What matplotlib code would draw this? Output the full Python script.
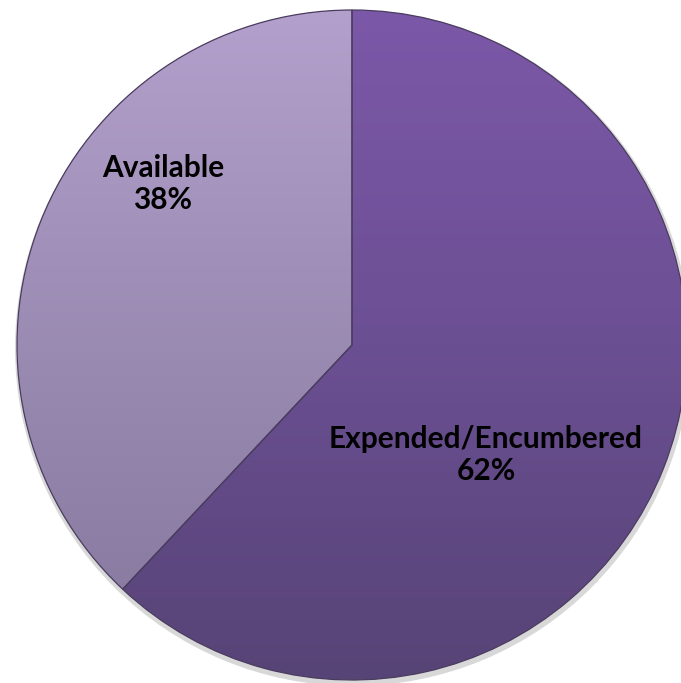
import numpy as np
import matplotlib.pyplot as plt
from matplotlib.colors import LinearSegmentedColormap

labels = ['Available', 'Expended/Encumbered']
shares = [38, 62]

# gradient colours top -> bottom for each slice
grad_avail = ['#b3a0cc', '#9a8bb3', '#84769b']
grad_exp = ['#7c58a8', '#6b4f93', '#574476']

W, H = 681, 683
fig = plt.figure(figsize=(W / 100, H / 100), dpi=100)
ax = fig.add_axes([0, 0, 1, 1])
ax.set_xlim(0, W)
ax.set_ylim(0, H)
ax.set_aspect('equal')
ax.axis('off')

cx, cy, r = 352, H - 345, 335

# soft shadow behind the pie
ax.pie([1], radius=r + 3, center=(cx + 1, cy - 3),
       colors=['#d8d8d8'], wedgeprops=dict(linewidth=0), frame=True)

wedges, _ = ax.pie(shares, radius=r, center=(cx, cy), startangle=90,
                   counterclock=True, colors=['none', 'none'],
                   wedgeprops=dict(linewidth=0.9, edgecolor='#4a3c5e'),
                   frame=True)

yy = np.linspace(0, 1, 256).reshape(-1, 1)
for w, cols in zip(wedges, [grad_avail, grad_exp]):
    cmap = LinearSegmentedColormap.from_list('g', cols)
    im = ax.imshow(yy, cmap=cmap, aspect='auto',
                   extent=[cx - r, cx + r, cy - r, cy + r],
                   origin='upper', zorder=1)
    im.set_clip_path(w)
    w.set_zorder(2)

ax.set_xlim(0, W)
ax.set_ylim(0, H)
ax.axis('off')

fnt = dict(family=['Lato', 'DejaVu Sans'], fontweight='bold', fontsize=21.5,
           ha='center', va='center', color='black', zorder=5, linespacing=1.2)
ax.text(163, H - 184, labels[0] + '\n' + str(shares[0]) + '%', **fnt)
ax.text(486, H - 455, labels[1] + '\n' + str(shares[1]) + '%', **fnt)

fig.savefig('out.png', dpi=100, facecolor='white')
